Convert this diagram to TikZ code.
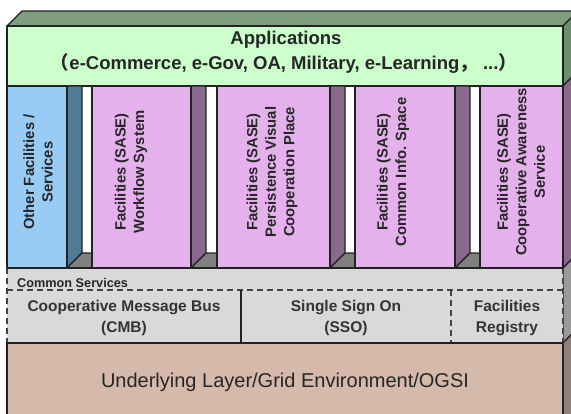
\documentclass[tikz,border=0pt]{standalone}
\usepackage{fontspec}
\setmainfont{Liberation Sans}
\newfontfamily\cjk{Noto Sans CJK SC}
\definecolor{topgreen}{HTML}{7E9E7E}
\definecolor{appgreen}{HTML}{CCFFCC}
\definecolor{sidegreen}{HTML}{6E8E70}
\definecolor{bluecol}{HTML}{99CCF5}
\definecolor{blueside}{HTML}{527A96}
\definecolor{pinkcol}{HTML}{E4B1EC}
\definecolor{purpleside}{HTML}{8A6A8C}
\definecolor{floorgray}{HTML}{808080}
\definecolor{csgray}{HTML}{D9D9D9}
\definecolor{csside}{HTML}{9A9A9A}
\definecolor{under}{HTML}{D5BAAB}
\definecolor{underside}{HTML}{8F807A}
\definecolor{edge}{HTML}{222222}
\tikzset{
  face/.style={draw=edge, line width=1.1pt, line join=round},
  coltext/.style={rotate=90, align=center, font=\bfseries\fontsize{14.8}{18.5}\selectfont, text=black!85},
  cstext/.style={align=center, font=\bfseries\fontsize{15.5}{21}\selectfont, text=black!80},
  dashline/.style={draw=edge!85, line width=1.1pt, dash pattern=on 6pt off 4pt}
}
\begin{document}
\begin{tikzpicture}[x=1pt,y=-1pt]
\useasboundingbox (0,0) rectangle (571,413);
\clip (0,0) rectangle (571,413);
\fill[white] (0,0) rectangle (571,413);
% top face
\path[face, fill=topgreen] (7,26) -- (22,11) -- (578,11) -- (563,26) -- cycle;
% outer right side faces
\path[face, fill=sidegreen] (563,26) -- (578,11) -- (578,71) -- (563,86) -- cycle;
\path[face, fill=purpleside] (563,86) -- (578,71) -- (578,253) -- (563,268) -- cycle;
\path[face, fill=csside] (563,268) -- (578,253) -- (578,328) -- (563,343) -- cycle;
\path[face, fill=underside] (563,343) -- (578,328) -- (578,430) -- (563,430) -- cycle;
% applications
\path[face, fill=appgreen] (7,26) rectangle (563,86);
\node[font=\bfseries\fontsize{18.5}{22}\selectfont, text=black!85] (apps) at (286,40) {Applications};
\node[font=\bfseries\fontsize{18.5}{22}\selectfont, text=black!85] (appsub) at (284,63)
  {{\cjk （}e-Commerce, e-Gov, OA, Military, e-Learning{\cjk ，} ...{\cjk ）}};
% column side faces and floors
\foreach \b/\n/\c in {67/92/blueside, 191/217/purpleside, 330/355/purpleside, 455/480/purpleside}{
  \path[face, fill=\c] (\b,86) -- (\b+15,86) -- (\b+15,253) -- (\b,268) -- cycle;
  \path[face, fill=floorgray] (\b,268) -- (\b+15,253) -- (\n,253) -- (\n,268) -- cycle;
}
% columns
\path[face, fill=bluecol] (7,86) rectangle (67,268);
\path[face, fill=pinkcol] (92,86) rectangle (191,268);
\path[face, fill=pinkcol] (217,86) rectangle (330,268);
\path[face, fill=pinkcol] (355,86) rectangle (455,268);
\path[face, fill=pinkcol] (480,86) rectangle (563,268);
\node[coltext] (other) at (38,172) {Other Facilities /\\Services};
\node[coltext] (wfs) at (131,172) {Facilities (SASE)\\Workflow System};
\node[coltext] (pvcp) at (272,172) {Facilities (SASE)\\Persistence Visual\\Cooperation Place};
\node[coltext] (cis) at (393,172) {Facilities (SASE)\\Common Info. Space};
\node[coltext] (cas) at (521,172) {Facilities (SASE)\\Cooperative Awareness\\Service};
% common services
\fill[csgray] (7,268) rectangle (563,343);
\draw[dashline] (7,268) -- (7,343) (563,268) -- (563,343);
\draw[face] (7,268) -- (563,268);
\draw[face] (7,343) -- (563,343);
\draw[dashline] (7,290) -- (563,290);
\draw[face] (241,290) -- (241,343);
\draw[dashline] (451,290) -- (451,343);
\node[anchor=base west, font=\bfseries\fontsize{12.7}{15}\selectfont, text=black!85, inner sep=0pt] (cs) at (17,287) {Common Services};
\node[cstext] (cmb) at (124,318) {Cooperative Message Bus\\(CMB)};
\node[cstext] (sso) at (346,318) {Single Sign On\\(SSO)};
\node[cstext] (reg) at (507,318) {Facilities\\Registry};
% underlying layer
\path[face, fill=under] (7,343) rectangle (563,430);
\node[font=\fontsize{20}{24}\selectfont, text=black!85] (ul) at (285,382) {Underlying Layer/Grid Environment/OGSI};
\end{tikzpicture}
\end{document}
